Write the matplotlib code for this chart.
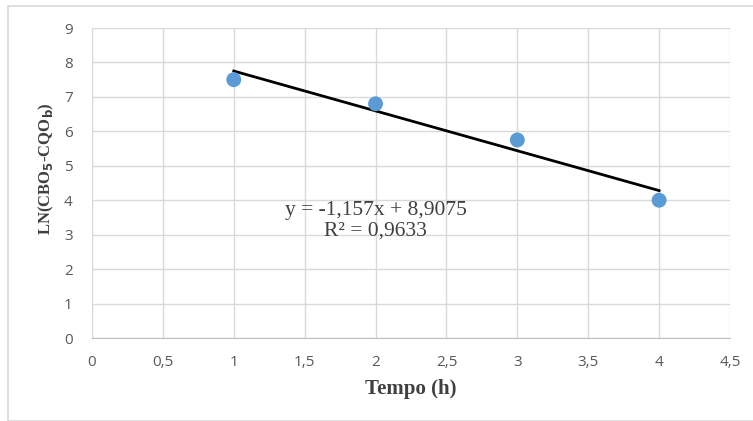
import numpy as np
import matplotlib.pyplot as plt
from matplotlib.patches import Rectangle
from matplotlib.ticker import FuncFormatter

# dados
tempo = [1, 2, 3, 4]
ln_cbo = [7.5, 6.8, 5.75, 4.0]
slope, intercept = -1.157, 8.9075
eq_text = "y = -1,157x + 8,9075\nR² = 0,9633"

fig = plt.figure(figsize=(7.53, 4.21), dpi=100)
ax = fig.add_axes([92/753, 1-338/421, (730-92)/753, (338-28)/421])

# borda do gráfico
fig.patches.append(Rectangle((8/753, 0), 1, 1-6/421, transform=fig.transFigure,
                             fill=False, edgecolor='#d9d9d9', lw=1.2))

ax.set_xlim(0, 4.5)
ax.set_ylim(0, 9)
ax.set_xticks(np.arange(0, 4.51, 0.5))
ax.set_yticks(np.arange(0, 10, 1))
fmt = FuncFormatter(lambda v, p: f"{v:g}".replace('.', ','))
ax.xaxis.set_major_formatter(fmt)
ax.yaxis.set_major_formatter(fmt)

ax.grid(True, color='#d9d9d9', lw=1)
ax.set_axisbelow(True)
for s in ['top', 'right', 'left']:
    ax.spines[s].set_visible(False)
ax.spines['bottom'].set_color('#bfbfbf')
ax.tick_params(axis='x', length=0, labelsize=11, colors='#595959', pad=12)
ax.tick_params(axis='y', length=0, labelsize=11, colors='#595959', pad=14)
for lbl in ax.get_xticklabels() + ax.get_yticklabels():
    lbl.set_fontfamily('Open Sans')

# linha de tendência
xt = np.array([1, 4])
ax.plot(xt, slope*xt + intercept, color='black', lw=2, zorder=2)
ax.scatter(tempo, ln_cbo, s=115, color='#5b9bd5', zorder=3,
           edgecolors='none')

ax.text(2.0, 3.41, eq_text, ha='center', va='center', fontsize=15.5,
        family='Liberation Serif', color='#404040', linespacing=1.1)

ax.set_xlabel("Tempo (h)", fontsize=15, fontweight='bold',
              family='Liberation Serif', color='#404040')
ax.xaxis.set_label_coords(0.5, -(379-338)/310)
ax.set_ylabel(r"LN(CBO$_\mathbf{5}$-CQO$_\mathbf{b}$)", fontsize=12, fontweight='bold',
              family='Liberation Serif', color='#404040')
ax.yaxis.set_label_coords(-(92-56)/638, (338-169)/310)

fig.savefig("out.png", dpi=100)
